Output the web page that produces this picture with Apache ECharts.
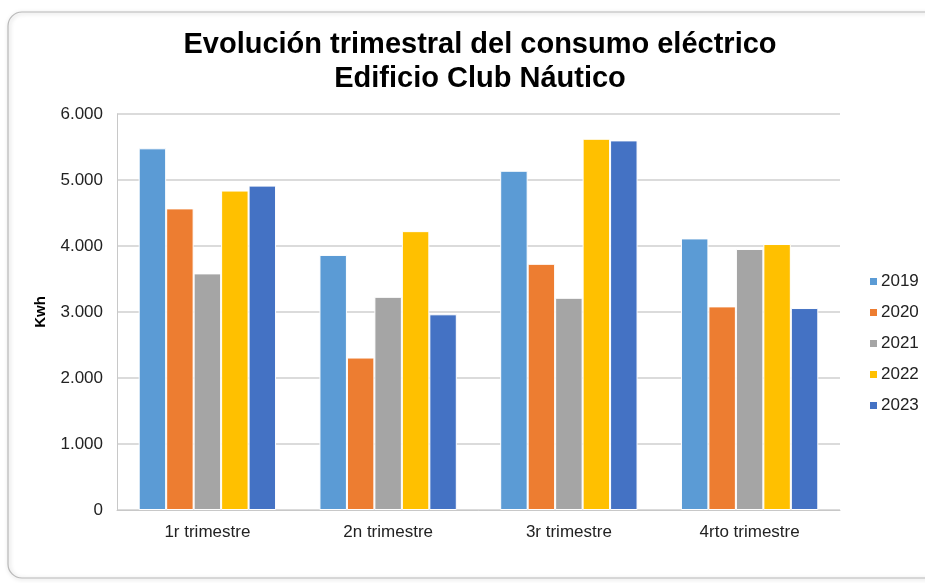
<!DOCTYPE html>
<html>
<head>
<meta charset="utf-8">
<script src="https://cdn.jsdelivr.net/npm/echarts@6/dist/echarts.min.js"></script>
<style>
  html, body { margin: 0; padding: 0; background: #fff; }
  #main { width: 925px; height: 583px; }
</style>
</head>
<body>
<div id="main"></div>
<script>
var trimestres = ['1r trimestre', '2n trimestre', '3r trimestre', '4rto trimestre'];
var anios = ['2019', '2020', '2021', '2022', '2023'];
var colores = ['#5b9bd5', '#ed7d31', '#a5a5a5', '#ffc000', '#4472c4'];
var v2019 = [5480, 3865, 5140, 4115];
var v2020 = [4570, 2310, 3730, 3085];
var v2021 = [3585, 3230, 3215, 3955];
var v2022 = [4840, 4225, 5625, 4030];
var v2023 = [4915, 2965, 5600, 3060];
var valores = [v2019, v2020, v2021, v2022, v2023];

function miles(v) {
  // separador de miles con punto
  return String(v).replace(/\B(?=(\d{3})+(?!\d))/g, '.');
}

var chartDom = document.getElementById('main');
var myChart = echarts.init(chartDom);

var series = anios.map(function(a, i) {
  return {
    name: a,
    type: 'bar',
    data: valores[i],
    barGap: '0%',
    barCategoryGap: '24%',
    itemStyle: { color: colores[i], borderColor: '#ffffff', borderWidth: 1 }
  };
});

var option = {
  backgroundColor: '#fff',
  animation: false,
  textStyle: { fontFamily: 'Liberation Sans, Arial, sans-serif' },
  graphic: [{
    type: 'rect',
    shape: { x: 8, y: 12, width: 940, height: 566, r: 14 },
    style: { fill: 'none', stroke: '#b8b8b8', lineWidth: 1.2, shadowBlur: 4, shadowColor: 'rgba(0,0,0,0.25)', shadowOffsetX: 1, shadowOffsetY: 1 },
    z: -1
  }],
  title: {
    text: 'Evolución trimestral del consumo eléctrico\nEdificio Club Náutico',
    left: 475,
    textAlign: 'center',
    top: 23,
    textStyle: { fontSize: 29, fontWeight: 'bold', color: '#000', lineHeight: 34, fontFamily: 'Liberation Sans, Arial, sans-serif' }
  },
  legend: {
    orient: 'vertical',
    left: 863,
    top: 268,
    itemWidth: 9,
    itemHeight: 9,
    itemGap: 14,
    icon: 'rect',
    textStyle: { fontSize: 17, color: '#222', padding: [0, 0, 0, -2] },
    data: anios
  },
  grid: { left: 117, right: 85, top: 114, bottom: 73, containLabel: false },
  xAxis: {
    type: 'category',
    data: trimestres,
    axisLine: { lineStyle: { color: '#c8c8c8', width: 1 } },
    axisTick: { show: false },
    axisLabel: { fontSize: 17, color: '#222', margin: 14 }
  },
  yAxis: {
    type: 'value',
    min: 0,
    max: 6000,
    interval: 1000,
    name: 'Kwh',
    nameLocation: 'middle',
    nameGap: 69,
    nameRotate: 90,
    nameTextStyle: { fontSize: 15, fontWeight: 'bold', color: '#000' },
    axisLine: { show: true, lineStyle: { color: '#c8c8c8' } },
    axisTick: { show: false },
    axisLabel: { fontSize: 17, color: '#222', margin: 14, formatter: miles },
    splitLine: { lineStyle: { color: '#cfcfcf', width: 1.5 } }
  },
  series: series
};

option && myChart.setOption(option);
</script>
</body>
</html>
